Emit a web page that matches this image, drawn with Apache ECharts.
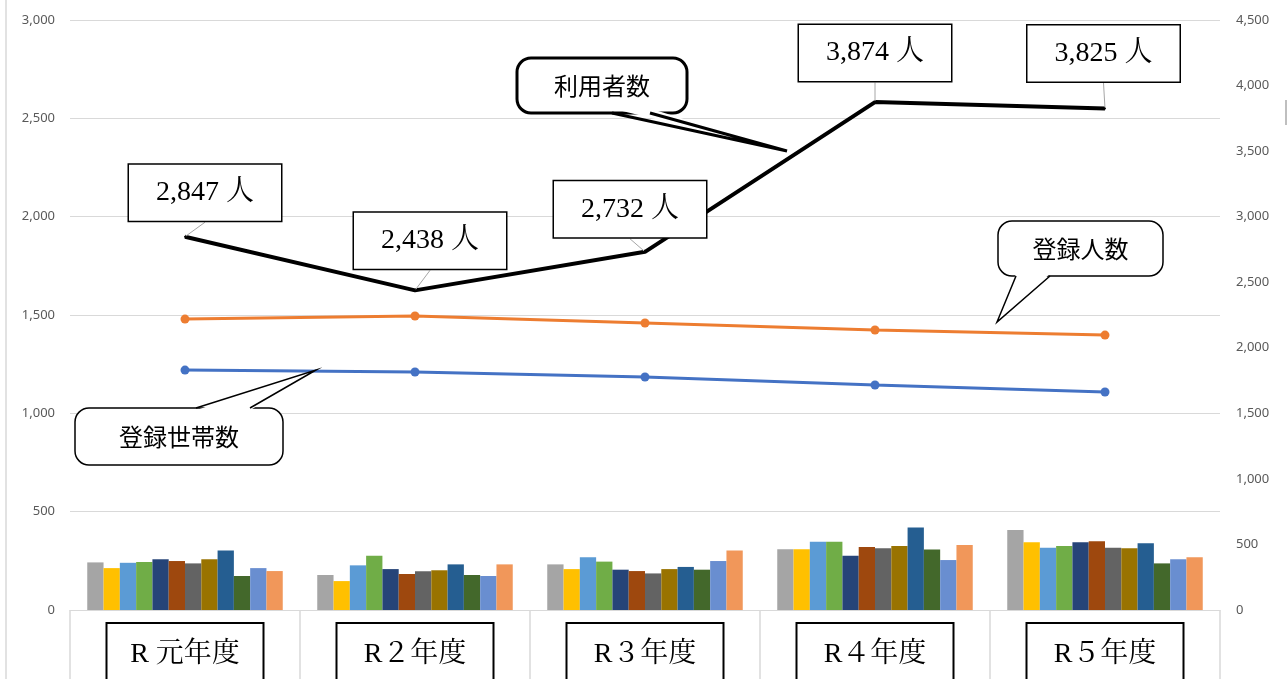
<!DOCTYPE html>
<html>
<head>
<meta charset="utf-8">
<script src="https://cdn.jsdelivr.net/npm/echarts@6/dist/echarts.min.js"></script>
<style>
html,body{margin:0;padding:0;background:#fff;}
#c{width:1288px;height:679px;}
</style>
</head>
<body>
<div id="c"></div>
<script>
// ---- data ----
const categories = ['R 元年度', 'R２年度', 'R３年度', 'R４年度', 'R５年度'];
const monthNames = ['4月','5月','6月','7月','8月','9月','10月','11月','12月','1月','2月','3月'];
// monthly values per month (one array per month, across the 5 years)
const m04 = [242, 178, 232, 309, 407];
const m05 = [213, 147, 208, 309, 344];
const m06 = [240, 227, 268, 347, 317];
const m07 = [244, 276, 246, 347, 325];
const m08 = [258, 208, 205, 276, 344];
const m09 = [249, 183, 198, 320, 349];
const m10 = [237, 197, 186, 314, 317];
const m11 = [258, 202, 208, 325, 314];
const m12 = [303, 232, 219, 419, 339];
const m01 = [173, 178, 205, 307, 237];
const m02 = [213, 173, 249, 254, 258];
const m03 = [198, 232, 303, 331, 268];
const users = [2847, 2438, 2732, 3874, 3825];        // 利用者数
const regPersons = [2219, 2242, 2189, 2136, 2097];    // 登録人数
const regHouseholds = [1830, 1815, 1777, 1716, 1663]; // 登録世帯数
const leftTicks = [0, 3000, 500];
const rightTicks = [0, 4500, 500];

// ---- styles ----
const monthly = [m04, m05, m06, m07, m08, m09, m10, m11, m12, m01, m02, m03];
const barColors = ['#A5A5A5','#FFC000','#5B9BD5','#70AD47','#264478','#9E480E',
                   '#636363','#997300','#255E91','#43682B','#698ED0','#F1975A'];
const labelShift = [[20, -15], [15, -20.5], [-15, -13.5], [0, -20], [-1.5, -26]];
const serif = "'Liberation Serif','Noto Serif CJK JP','Noto Sans CJK JP',serif";
const sans = "'Noto Sans CJK JP','Noto Sans',sans-serif";

const chart = echarts.init(document.getElementById('c'), null, {renderer: 'canvas'});

const series = monthly.map((arr, i) => ({
  name: monthNames[i],
  type: 'bar',
  yAxisIndex: 0,
  data: arr,
  barGap: '0%',
  barCategoryGap: '15%',
  itemStyle: {color: barColors[i]},
  z: 2
}));

series.push({
  name: '登録人数', type: 'line', yAxisIndex: 1, data: regPersons,
  symbol: 'circle', symbolSize: 9, lineStyle: {color: '#ED7D31', width: 3},
  itemStyle: {color: '#ED7D31'}, z: 5
});
series.push({
  name: '登録世帯数', type: 'line', yAxisIndex: 1, data: regHouseholds,
  symbol: 'circle', symbolSize: 9, lineStyle: {color: '#4472C4', width: 3},
  itemStyle: {color: '#4472C4'}, z: 5
});
series.push({
  name: '利用者数', type: 'line', yAxisIndex: 1, data: users,
  symbol: 'circle', symbolSize: 2, showSymbol: true,
  itemStyle: {color: '#000'},
  lineStyle: {color: '#000', width: 4},
  z: 6,
  label: {
    show: true, position: 'top', distance: 0,
    formatter: p => p.value.toLocaleString('en-US') + ' 人',
    fontFamily: serif, fontSize: 28, color: '#000',
    backgroundColor: '#fff', borderColor: '#000', borderWidth: 1.5,
    padding: [14, 27, 14, 27]
  },
  labelLine: {show: true, lineStyle: {color: '#a6a6a6', width: 1}},
  labelLayout: p => ({dx: labelShift[p.dataIndex][0], dy: labelShift[p.dataIndex][1], hideOverlap: false})
});

function callout(text, x, y, w, h, b1, b2, tx, ty, side, lw) {
  const ey = side === 'bottom' ? y + h : y;
  const inset = side === 'bottom' ? -lw * 1.5 : lw * 1.5;
  return {
    type: 'group', z: 100,
    children: [
      {type: 'rect', shape: {x: x, y: y, width: w, height: h, r: 14},
       style: {fill: '#fff', stroke: '#000', lineWidth: lw}, z: 100},
      {type: 'polygon', shape: {points: [[b1, ey + inset], [tx, ty], [b2, ey + inset]]},
       style: {fill: '#fff', stroke: null}, z: 101},
      {type: 'polyline', shape: {points: [[b1, ey], [tx, ty], [b2, ey]]},
       style: {fill: null, stroke: '#000', lineWidth: lw, lineJoin: 'miter'}, z: 102},
      {type: 'text', x: x + w / 2, y: y + h / 2, z: 103,
       style: {text: text, font: `24px ${sans}`, fill: '#000', align: 'center', verticalAlign: 'middle'}}
    ]
  };
}

chart.setOption({
  backgroundColor: '#fff',
  animation: false,
  grid: {left: 70, right: 68, top: 20, bottom: 69, containLabel: false, outerBoundsMode: 'none'},
  xAxis: {
    type: 'category', data: categories, boundaryGap: true,
    axisLine: {show: true, lineStyle: {color: '#d9d9d9', width: 1}},
    axisTick: {show: true, length: 70, interval: 0, lineStyle: {color: '#d9d9d9', width: 1.5}},
    axisLabel: {
      interval: 0, margin: 14,
      formatter: v => '{a|' + v + '}',
      rich: {
        a: {fontFamily: serif, fontSize: 28, color: '#000', width: 113, align: 'center',
            borderColor: '#000', borderWidth: 2, padding: [17, 21, 40, 21], backgroundColor: '#fff'}
      }
    }
  },
  yAxis: [
    {type: 'value', min: leftTicks[0], max: leftTicks[1], interval: leftTicks[2],
     axisLine: {show: false}, axisTick: {show: false},
     axisLabel: {color: '#595959', fontSize: 13, fontFamily: "'Noto Sans',sans-serif", margin: 15,
                 formatter: v => v.toLocaleString('en-US')},
     splitLine: {show: true, lineStyle: {color: '#d9d9d9', width: 1.2}}},
    {type: 'value', min: rightTicks[0], max: rightTicks[1], interval: rightTicks[2],
     axisLine: {show: false}, axisTick: {show: false},
     axisLabel: {color: '#595959', fontSize: 13, fontFamily: "'Noto Sans',sans-serif", margin: 16,
                 formatter: v => v.toLocaleString('en-US')},
     splitLine: {show: false}}
  ],
  series: series,
  graphic: [
    {type: 'line', shape: {x1: 6, y1: 0, x2: 6, y2: 679}, style: {stroke: '#d9d9d9', lineWidth: 1.5}, z: 0},
    {type: 'line', shape: {x1: 1286, y1: 100, x2: 1286, y2: 125}, style: {stroke: '#bfbfbf', lineWidth: 2}, z: 0},
    callout('利用者数', 517, 58, 170, 55, 612, 650, 787, 151, 'bottom', 3),
    callout('登録人数', 998, 221, 165, 55, 1016, 1050, 997, 322, 'bottom', 1.5),
    callout('登録世帯数', 75, 408, 208, 57, 196, 250, 316, 370, 'top', 1.5)
  ]
});
</script>
</body>
</html>
